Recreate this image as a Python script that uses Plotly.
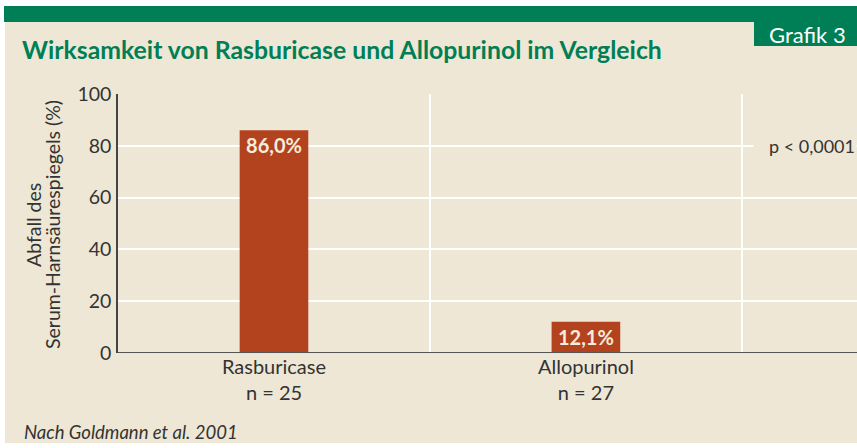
import plotly.graph_objects as go

categories = ["Rasburicase", "Allopurinol"]
group_sizes = ["n = 25", "n = 27"]
values = [86.0, 12.1]
y_ticks = [0, 20, 40, 60, 80, 100]
y_title_lines = ["Abfall des", "Serum-Harnsäurespiegels (%)"]

BEIGE = "#EEE7D5"
GREEN = "#007F56"
RED = "#B3421F"
DARK = "#333333"
FONT = "Lato"

W, H = 857, 448
L, R, T, B = 118, 0, 94, 95
PW, PH = W - L - R, H - T - B

def px_x(x):
    return (x - L) / PW

def px_y(y):
    return (H - B - y) / PH

positions = list(range(len(categories)))
tick_text = [f"{c}<br>{n}" for c, n in zip(categories, group_sizes)]

fig = go.Figure()
fig.add_trace(go.Bar(
    x=positions, y=values, width=0.22,
    marker=dict(color=RED, line=dict(width=0)),
    texttemplate="<b>%{y:.1f}%</b>", textposition="inside",
    insidetextanchor="end", constraintext="none",
    textfont=dict(family=FONT, size=20, color="#F5ECDA"),
    hoverinfo="skip",
))
# invisible trace to activate secondary x axis for category-separator grid
fig.add_trace(go.Scatter(x=[0.5, 1.5], y=[None, None], xaxis="x2", showlegend=False, hoverinfo="skip"))

annotations = [
    dict(text="Grafik 3", xref="paper", yref="paper", x=px_x(807), y=px_y(34),
         xanchor="center", yanchor="middle", showarrow=False,
         font=dict(family=FONT, size=22, color="white")),
    dict(text="p < 0,0001", xref="paper", yref="y", x=1, y=80,
         xanchor="right", yanchor="middle", showarrow=False, width=100, align="right",
         bgcolor=BEIGE, font=dict(family=FONT, size=18, color=DARK)),
    dict(text="<i>Nach Goldmann et al. 2001</i>", xref="paper", yref="paper",
         x=px_x(22), y=px_y(432), xanchor="left", yanchor="middle", showarrow=False,
         font=dict(family=FONT, size=18.5, color=DARK)),
]
for line_text, xp in zip(y_title_lines, [33, 52]):
    annotations.append(dict(
        text=line_text, xref="paper", yref="paper", x=px_x(xp), y=px_y(225),
        xanchor="center", yanchor="middle", textangle=-90, showarrow=False,
        font=dict(family=FONT, size=19.5, color=DARK)))

fig.update_layout(
    width=W, height=H,
    margin=dict(l=L, r=R, t=T, b=B, autoexpand=False),
    paper_bgcolor=BEIGE, plot_bgcolor=BEIGE,
    separators=",.",
    showlegend=False,
    font=dict(family=FONT, color=DARK, size=17),
    title=dict(
        text="<b>Wirksamkeit von Rasburicase und Allopurinol im Vergleich</b>",
        font=dict(family=FONT, size=24.8, color=GREEN),
        x=22 / W, xanchor="left", xref="container",
        y=1 - 50 / H, yanchor="middle", yref="container",
    ),
    xaxis=dict(
        range=[-0.5, 1.869], tickvals=positions, ticktext=tick_text,
        showgrid=False, zeroline=False, showline=False,
        ticks="", tickfont=dict(size=20, color=DARK),
    ),
    xaxis2=dict(
        range=[-0.5, 1.869], overlaying="x", tickvals=[0.5, 1.5],
        showgrid=True, gridcolor="white", gridwidth=1.5,
        showticklabels=False, zeroline=False, showline=False, ticks="",
    ),
    yaxis=dict(
        range=[0, 100], tickvals=y_ticks, showgrid=True,
        gridcolor="white", gridwidth=1.5,
        zeroline=False, showline=True, linecolor="#444444", linewidth=1.5,
        ticks="outside", ticklen=1, tickcolor="rgba(0,0,0,0)",
        tickfont=dict(size=19.5, color=DARK),
    ),
    shapes=[
        # white frame
        dict(type="rect", xref="paper", yref="paper", x0=px_x(0), x1=px_x(5), y0=px_y(H), y1=px_y(0),
             fillcolor="white", line=dict(width=0), layer="below"),
        dict(type="rect", xref="paper", yref="paper", x0=px_x(0), x1=px_x(W), y0=px_y(6), y1=px_y(0),
             fillcolor="white", line=dict(width=0), layer="below"),
        dict(type="rect", xref="paper", yref="paper", x0=px_x(0), x1=px_x(W), y0=px_y(H), y1=px_y(443),
             fillcolor="white", line=dict(width=0), layer="below"),
        # green band
        dict(type="rect", xref="paper", yref="paper", x0=px_x(4), x1=px_x(W), y0=px_y(22), y1=px_y(6),
             fillcolor=GREEN, line=dict(width=0)),
        # Grafik box
        dict(type="rect", xref="paper", yref="paper", x0=px_x(754), x1=px_x(W), y0=px_y(46), y1=px_y(22),
             fillcolor=GREEN, line=dict(width=0)),
        # x axis baseline
        dict(type="line", xref="paper", yref="y", x0=0, x1=1, y0=0, y1=0,
             line=dict(color="#555555", width=2)),
    ],
    annotations=annotations,
)

fig.write_html("out.html", config={"displayModeBar": False},
               post_script="document.body.style.margin='0';document.body.style.padding='0';")
